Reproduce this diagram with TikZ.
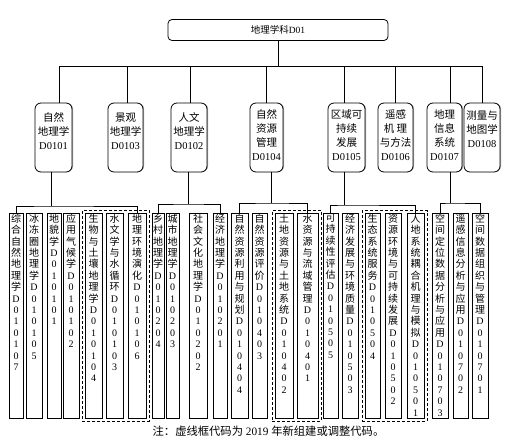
\documentclass[tikz,border=0pt]{standalone}
\usepackage{fontspec}
\setmainfont{Liberation Serif}
\newfontfamily\cjk{Noto Sans CJK SC}
\usetikzlibrary{fit,shadows}
\def\vstkEnd{}
\def\vstkA#1{\ifx#1\vstkEnd\else\hbox to 11pt{\hss#1\hss}\expandafter\vstkA\fi}
\newcommand\vstk[2]{\vbox to 204pt{\baselineskip=11.4pt\lineskiplimit=-20pt\lineskip=0pt{\cjk\vstkA#1\vstkEnd}\vstkA#2\vstkEnd\vss}}
\begin{document}
\begin{tikzpicture}[x=1pt,y=-1pt,
  conn/.style={draw=black,line width=0.8pt},
  topbox/.style={draw,line width=0.8pt,rounded corners=4pt,minimum width=220pt,minimum height=21pt,inner sep=0pt,font=\fontsize{9.5}{11}\selectfont},
  l2box/.style={draw,line width=0.8pt,rounded corners=6pt,minimum height=69pt,inner sep=0pt,fill=white,
    drop shadow={shadow xshift=1pt,shadow yshift=0pt,opacity=1,fill=black!35}},
  l2text/.style={align=center,inner sep=0pt,font=\fontsize{10.5}{14}\selectfont},
  leafbox/.style={draw,line width=0.8pt,inner sep=0pt,anchor=north,minimum height=205pt,fill=white,
    font=\fontsize{10}{11.4}\selectfont,
    drop shadow={shadow xshift=1.4pt,shadow yshift=0pt,opacity=1,fill=black!40}},
  dashbox/.style={draw,line width=0.8pt,dash pattern=on 3pt off 2pt,inner sep=2.5pt},
  notetext/.style={inner sep=0pt,font=\fontsize{11.3}{13}\selectfont}]
\useasboundingbox (0,0) rectangle (510,447);
\newcommand\leaf[5]{\node[leafbox,minimum width=#3pt] (#1) at (#2,213) {\vstk{#4}{#5}};}

% top
\node[topbox] (top) at (278,30) {{\cjk 地理学科}D01};

% level 2 boxes
\node[l2box,minimum width=37pt] (b0101) at (53.5,137.5) {};
\node[l2text] (t0101) at (53.5,131) {{\cjk 自然}\\{\cjk 地理学}\\D0101};
\node[l2box,minimum width=35pt] (b0103) at (125.5,137.5) {};
\node[l2text] (t0103) at (125.5,131) {{\cjk 景观}\\{\cjk 地理学}\\D0103};
\node[l2box,minimum width=36pt] (b0102) at (189,137.5) {};
\node[l2text] (t0102) at (189,131) {{\cjk 人文}\\{\cjk 地理学}\\D0102};
\node[l2box,minimum width=33pt] (b0104) at (266.5,137.5) {};
\node[l2text] (t0104) at (266.5,135) {{\cjk 自然}\\{\cjk 资源}\\{\cjk 管理}\\D0104};
\node[l2box,minimum width=37pt] (b0105) at (346.5,137.5) {};
\node[l2text] (t0105) at (346.5,135) {{\cjk 区域可}\\{\cjk 持续}\\{\cjk 发展}\\D0105};
\node[l2box,minimum width=35pt] (b0106) at (395.5,137.5) {};
\node[l2text] (t0106) at (395.5,135) {{\cjk 遥感}\\{\cjk 机 理}\\{\cjk 与方法}\\D0106};
\node[l2box,minimum width=35pt] (b0107) at (444.5,137.5) {};
\node[l2text] (t0107) at (444.5,135) {{\cjk 地理}\\{\cjk 信息}\\{\cjk 系统}\\D0107};
\node[l2box,minimum width=36pt] (b0108) at (482,137.5) {};
\node[l2text] (t0108) at (482,129) {{\cjk 测量与}\\{\cjk 地图学}\\D0108};

% connectors level 1 -> 2
\coordinate (bus) at (278,66);
\draw[conn] (top.south) -- (bus);
\draw[conn] ([xshift=5.5pt]b0101.north) |- (bus);
\draw[conn] ([xshift=1.5pt]b0103.north) |- (bus);
\draw[conn] ([xshift=1pt]b0102.north) |- (bus);
\draw[conn] (b0104.north) |- (bus);
\draw[conn] ([xshift=-2.5pt]b0105.north) |- (bus);
\draw[conn] (b0106.north) |- (bus);
\draw[conn] ([xshift=5.5pt]b0107.north) |- (bus);
\draw[conn] (b0108.north) |- (bus);

% leaves
\leaf{l1}{16}{14}{综合自然地理学}{D010107}
\leaf{l2}{34}{16}{冰冻圈地理学}{D010105}
\leaf{l3}{54}{14}{地貌学}{D010101}
\leaf{l4}{71}{16}{应用气候学}{D010102}
\leaf{l5}{93.5}{17}{生物与土壤地理学}{D010104}
\leaf{l6}{114.5}{17}{水文学与水循环}{D010103}
\leaf{l7}{137}{18}{地理环境演化}{D010106}
\leaf{l8}{158}{12}{乡村地理学}{D010204}
\leaf{l9}{172.5}{13}{城市地理学}{D010203}
\leaf{l10}{198}{18}{社会文化地理学}{D010202}
\leaf{l11}{220}{14}{经济地理学}{D010201}
\leaf{l12}{239.5}{17}{自然资源利用与规划}{D010404}
\leaf{l13}{259.5}{15}{自然资源评价}{D010403}
\leaf{l14}{284}{18}{土地资源与土地系统}{D010402}
\leaf{l15}{307.5}{21}{水资源与流域管理}{D010401}
\leaf{l16}{330.5}{15}{可持续性评估}{D010505}
\leaf{l17}{350}{16}{经济发展与环境质量}{D010503}
\leaf{l18}{372.5}{15}{生态系统服务}{D010504}
\leaf{l19}{393}{16}{资源环境与可持续发展}{D010502}
\leaf{l20}{415.5}{17}{人地系统耦合机理与模拟}{D010501}
\leaf{l21}{440}{16}{空间定位数据分析与应用}{D010703}
\leaf{l22}{460.5}{15}{遥感信息分析与应用}{D010702}
\leaf{l23}{480}{16}{空间数据组织与管理}{D010701}

% dashed groups
\node[dashbox,fit=(l5)(l7)] (g1) {};
\node[dashbox,fit=(l14)(l15)] (g2) {};
\node[dashbox,fit=(l18)(l20)] (g3) {};

% connectors level 2 -> 3
\coordinate (j1) at (51,206);
\draw[conn] (b0101.south -| j1) -- (j1);
\draw[conn] (l1.north) |- (j1) -| (l7.north);
\coordinate (j2) at (188,204);
\draw[conn] (b0102.south -| j2) -- (j2);
\draw[conn] (l8.north) |- (j2) -| (l11.north);
\coordinate (j4) at (271,203);
\draw[conn] (b0104.south -| j4) -- (j4);
\draw[conn] (l12.north) |- (j4) -| (l15.north);
\coordinate (j5) at (344,205);
\draw[conn] (b0105.south -| j5) -- (j5);
\draw[conn] (l16.north) |- (j5) -| (l20.north);
\coordinate (j7) at (450,203);
\draw[conn] (b0107.south -| j7) -- (j7);
\draw[conn] (l21.north) |- (j7) -| (l23.north);

% note
\node[notetext] (note) at (268.5,431) {{\cjk 注：虚线框代码为} 2019 {\cjk 年新组建或调整代码。}};
\end{tikzpicture}
\end{document}
